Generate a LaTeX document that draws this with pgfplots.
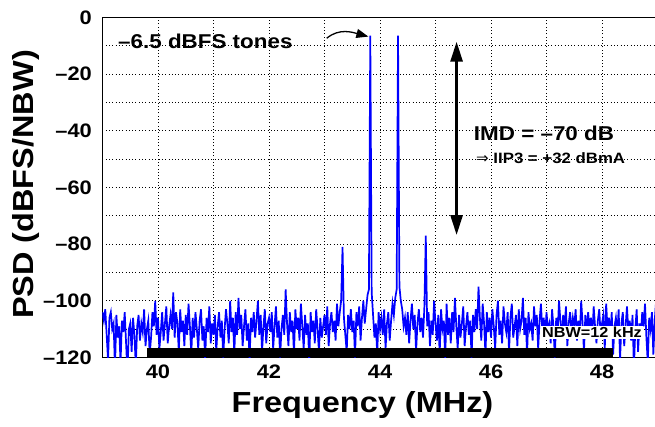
\documentclass[border=0pt]{standalone}
\usepackage{pgfplots}
\pgfplotsset{compat=1.18}
\usepackage{fontspec}
\setmainfont{Liberation Sans}[FakeStretch=1.12]
\newfontfamily\symfont{DejaVu Sans}
\usetikzlibrary{arrows.meta}
\definecolor{psdblue}{RGB}{0,0,255}

\begin{document}
\begin{tikzpicture}
\useasboundingbox (-102.5pt,-69.5pt) rectangle (552.5pt,357.5pt);
\begin{axis}[
  at={(0,0)}, anchor=south west,
  scale only axis, width=555pt, height=340.2pt,
  xmin=39, xmax=49, ymin=-120, ymax=0,
  xtick={40,42,44,46,48}, xticklabels={40,42,44,46,48},
  minor xtick={39,41,43,45,47,49},
  ytick={-120,-100,-80,-60,-40,-20,0},
  yticklabels={–120,–100,–80,–60,–40,–20,0},
  minor ytick={-110,-90,-70,-50,-30,-10},
  major tick length=0pt, minor tick length=0pt,
  grid=both,
  grid style={black, line width=0.8pt, dash pattern=on 0.8pt off 2.5pt},
  minor grid style={black, line width=0.8pt, dash pattern=on 0.8pt off 2.5pt},
  axis line style={line width=1.5pt},
  tick label style={font=\fontsize{19.5}{20}\selectfont\bfseries},
  xticklabel style={anchor=north, inner sep=0pt, yshift=-7.5pt},
  yticklabel style={anchor=east, inner sep=0pt, xshift=-10.5pt},
  xlabel={Frequency (MHz)},
  ylabel={PSD (dBFS/NBW)},
  label style={font=\fontsize{29}{30}\selectfont\bfseries},
  xlabel style={at={(axis cs:43.685,-120)}, anchor=base, yshift=-55.5pt},
  ylabel style={at={(axis cs:37.753,-59)}, anchor=base},
  clip=true,
]
%% measured spectrum
\addplot[psdblue, line width=1.7pt] coordinates {
(39.000,-104)(39.025,-107)(39.050,-103)(39.075,-112)(39.100,-121)(39.125,-106)(39.150,-104)(39.175,-110)(39.200,-108)(39.225,-124)
(39.250,-105)(39.275,-113)(39.300,-109)(39.325,-122)(39.350,-107)(39.375,-111)(39.400,-104)(39.425,-115)(39.450,-126)(39.475,-110)
(39.500,-108)(39.525,-118)(39.550,-106)(39.575,-112)(39.600,-123)(39.625,-109)(39.650,-105)(39.675,-114)(39.700,-108)(39.725,-111)
(39.750,-103)(39.775,-116)(39.800,-110)(39.825,-107)(39.850,-119)(39.875,-113)(39.900,-104)(39.925,-109)(39.950,-100)(39.975,-112)
(40.000,-106)(40.025,-117)(40.050,-111)(40.075,-104)(40.100,-114)(40.125,-108)(40.150,-102)(40.175,-115)(40.200,-109)(40.225,-105)
(40.250,-110)(40.275,-97)(40.300,-113)(40.325,-104)(40.350,-108)(40.375,-118)(40.400,-103)(40.425,-111)(40.450,-107)(40.475,-116)
(40.500,-105)(40.525,-112)(40.550,-101)(40.575,-109)(40.600,-119)(40.625,-106)(40.650,-113)(40.675,-104)(40.700,-110)(40.725,-117)
(40.750,-107)(40.775,-103)(40.800,-114)(40.825,-109)(40.850,-121)(40.875,-106)(40.900,-111)(40.925,-102)(40.950,-115)(40.975,-108)
(41.000,-112)(41.025,-105)(41.050,-118)(41.075,-109)(41.100,-104)(41.125,-113)(41.150,-107)(41.175,-120)(41.200,-110)(41.225,-103)
(41.250,-108)(41.275,-115)(41.300,-100)(41.325,-111)(41.350,-106)(41.375,-119)(41.400,-104)(41.425,-112)(41.450,-99)(41.475,-110)
(41.500,-105)(41.525,-116)(41.550,-109)(41.575,-103)(41.600,-114)(41.625,-108)(41.650,-121)(41.675,-106)(41.700,-111)(41.725,-104)
(41.750,-113)(41.775,-107)(41.800,-100)(41.825,-112)(41.850,-105)(41.875,-118)(41.900,-109)(41.925,-103)(41.950,-115)(41.975,-108)
(42.000,-106)(42.025,-111)(42.050,-104)(42.075,-117)(42.100,-109)(42.125,-102)(42.150,-113)(42.175,-107)(42.200,-120)(42.225,-110)
(42.250,-105)(42.275,-112)(42.300,-96)(42.325,-108)(42.350,-116)(42.375,-104)(42.400,-111)(42.425,-107)(42.450,-119)(42.475,-103)
(42.500,-110)(42.525,-106)(42.550,-114)(42.575,-101)(42.600,-109)(42.625,-117)(42.650,-105)(42.675,-112)(42.700,-108)(42.725,-122)
(42.750,-104)(42.775,-111)(42.800,-107)(42.825,-115)(42.850,-103)(42.875,-110)(42.900,-118)(42.925,-106)(42.950,-113)(42.975,-109)
(43.000,-105)(43.025,-112)(43.050,-102)(43.075,-116)(43.100,-108)(43.125,-104)(43.150,-111)(43.175,-107)(43.200,-114)(43.225,-101)
(43.250,-109)(43.275,-104)(43.300,-100)(43.325,-81)(43.350,-106)(43.375,-112)(43.400,-118)(43.425,-105)(43.450,-110)(43.475,-103)
(43.500,-111)(43.525,-107)(43.550,-120)(43.575,-104)(43.600,-109)(43.625,-102)(43.650,-114)(43.675,-106)(43.700,-100)(43.725,-108)
(43.750,-103)(43.775,-98)(43.800,-96)(43.825,-6.5)(43.850,-97)(43.875,-105)(43.900,-113)(43.925,-108)(43.950,-119)(43.975,-104)
(44.000,-110)(44.025,-106)(44.050,-112)(44.075,-103)(44.100,-117)(44.125,-108)(44.150,-104)(44.175,-114)(44.200,-107)(44.225,-101)
(44.250,-105)(44.275,-99)(44.300,-96)(44.325,-6.5)(44.350,-95)(44.375,-100)(44.400,-103)(44.425,-109)(44.450,-106)(44.475,-112)
(44.500,-104)(44.525,-115)(44.550,-107)(44.575,-101)(44.600,-110)(44.625,-105)(44.650,-118)(44.675,-108)(44.700,-103)(44.725,-111)
(44.750,-106)(44.775,-113)(44.800,-102)(44.825,-77)(44.850,-109)(44.875,-104)(44.900,-116)(44.925,-107)(44.950,-112)(44.975,-100)
(45.000,-108)(45.025,-114)(45.050,-105)(45.075,-119)(45.100,-103)(45.125,-110)(45.150,-107)(45.175,-121)(45.200,-101)(45.225,-112)
(45.250,-106)(45.275,-115)(45.300,-104)(45.325,-111)(45.350,-99)(45.375,-109)(45.400,-117)(45.425,-105)(45.450,-113)(45.475,-108)
(45.500,-102)(45.525,-116)(45.550,-109)(45.575,-104)(45.600,-112)(45.625,-107)(45.650,-120)(45.675,-105)(45.700,-111)(45.725,-103)
(45.750,-110)(45.775,-95)(45.800,-106)(45.825,-114)(45.850,-101)(45.875,-108)(45.900,-119)(45.925,-104)(45.950,-111)(45.975,-106)
(46.000,-113)(46.025,-103)(46.050,-109)(46.075,-117)(46.100,-105)(46.125,-100)(46.150,-112)(46.175,-107)(46.200,-115)(46.225,-102)
(46.250,-108)(46.275,-111)(46.300,-104)(46.325,-118)(46.350,-106)(46.375,-101)(46.400,-113)(46.425,-109)(46.450,-105)(46.475,-116)
(46.500,-103)(46.525,-110)(46.550,-107)(46.575,-99)(46.600,-112)(46.625,-106)(46.650,-119)(46.675,-104)(46.700,-110)(46.725,-108)
(46.750,-114)(46.775,-102)(46.800,-109)(46.825,-105)(46.850,-117)(46.875,-107)(46.900,-101)(46.925,-111)(46.950,-106)(46.975,-113)
(47.000,-104)(47.025,-110)(47.050,-108)(47.075,-115)(47.100,-103)(47.125,-109)(47.150,-120)(47.175,-106)(47.200,-112)(47.225,-100)
(47.250,-107)(47.275,-113)(47.300,-105)(47.325,-110)(47.350,-102)(47.375,-116)(47.400,-108)(47.425,-104)(47.450,-111)(47.475,-106)
(47.500,-109)(47.525,-103)(47.550,-114)(47.575,-107)(47.600,-112)(47.625,-100)(47.650,-108)(47.675,-118)(47.700,-105)(47.725,-111)
(47.750,-104)(47.775,-110)(47.800,-106)(47.825,-113)(47.850,-102)(47.875,-109)(47.900,-115)(47.925,-107)(47.950,-103)(47.975,-112)
(48.000,-108)(48.025,-105)(48.050,-117)(48.075,-101)(48.100,-110)(48.125,-106)(48.150,-113)(48.175,-104)(48.200,-119)(48.225,-109)
(48.250,-106)(48.275,-112)(48.300,-103)(48.325,-121)(48.350,-108)(48.375,-104)(48.400,-116)(48.425,-109)(48.450,-102)(48.475,-111)
(48.500,-107)(48.525,-114)(48.550,-105)(48.575,-124)(48.600,-110)(48.625,-103)(48.650,-118)(48.675,-108)(48.700,-112)(48.725,-104)
(48.750,-109)(48.775,-101)(48.800,-113)(48.825,-122)(48.850,-106)(48.875,-110)(48.900,-104)(48.925,-119)(48.950,-107)(48.975,-100)
(49.000,-105)
};
%% black band along the bottom
\addplot[black, line width=8.4pt] coordinates {(39.80,-118.3) (48.19,-118.3)};
%% annotations
\node[anchor=west, inner sep=0pt, font=\fontsize{20}{21}\selectfont\bfseries]
  at (axis cs:39.28,-8.6) {–6.5 dBFS tones};
\draw[line width=1.3pt, -{Triangle[length=12pt,width=9pt]}]
  (axis cs:43.04,-7.4) to[out=40, in=165] (axis cs:43.79,-6.8);
\draw[line width=2.7pt, {Triangle[length=20pt,width=12pt]}-{Triangle[length=20pt,width=12pt]}]
  (axis cs:45.38,-8.6) -- (axis cs:45.38,-76.8);
\node[anchor=west, inner sep=0pt, font=\fontsize{20}{21}\selectfont\bfseries]
  at (axis cs:45.69,-40.9) {IMD = –70 dB};
\node[anchor=west, inner sep=0pt, font=\fontsize{15}{16}\selectfont\bfseries]
  at (axis cs:45.73,-49.7) {{\symfont\mdseries ⇒} IIP3 = +32 dBmA};
\node[fill=white, inner sep=1.5pt, font=\fontsize{14.5}{15}\selectfont\bfseries]
  at (axis cs:47.82,-111.2) {NBW=12 kHz};
\end{axis}
\end{tikzpicture}
\end{document}
